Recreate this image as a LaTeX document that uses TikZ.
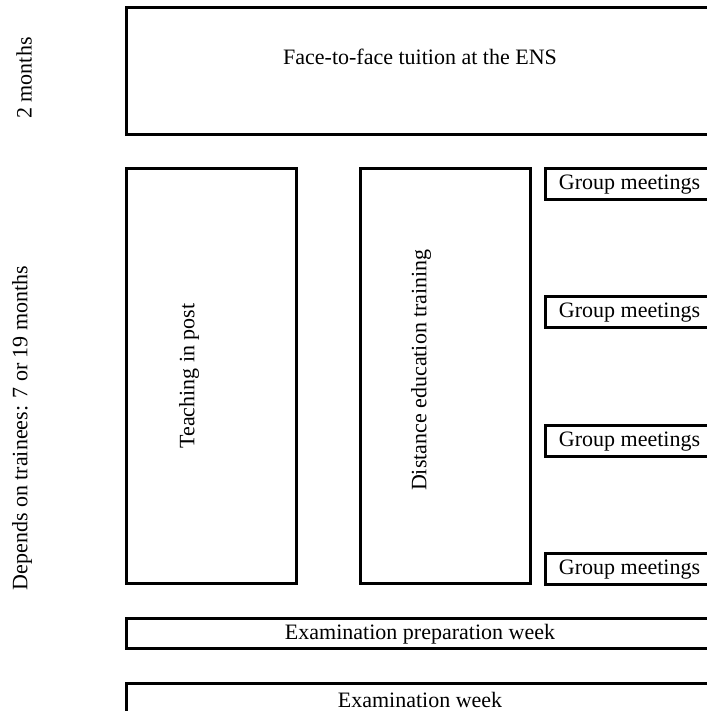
\documentclass[tikz,border=0pt]{standalone}
\usepackage{fontspec}
\setmainfont{Liberation Serif}
\usetikzlibrary{fit}
\begin{document}
\begin{tikzpicture}[x=0.75pt,y=-0.75pt,
  box/.style={draw=black,line width=2.25pt,inner sep=0pt,rectangle},
  lbl/.style={inner sep=0pt,font=\fontsize{16.5}{20}\selectfont},
  vlbl/.style={lbl,rotate=90}]
\useasboundingbox (0,0) rectangle (707,711);
\clip (0,0) rectangle (707,711);
% boxes
\node[box,fit={(126,7) (714,134)}] (ens) {};
\node[box,fit={(126,168) (296,583)}] (teach) {};
\node[box,fit={(360,168) (530,583)}] (dist) {};
\node[box,fit={(545,168) (714,199)}] (g1) {};
\node[box,fit={(545,296) (714,327)}] (g2) {};
\node[box,fit={(545,425) (714,456)}] (g3) {};
\node[box,fit={(545,553) (714,584)}] (g4) {};
\node[box,fit={(126,618) (714,648)}] (prep) {};
\node[box,fit={(126,683) (714,730)}] (exam) {};
% labels
\node[lbl] (tens) at (420,57) {Face-to-face tuition at the ENS};
\node[vlbl] (tteach) at (189,376) {Teaching in post};
\node[vlbl] (tdist) at (421,370) {Distance education training};
\node[lbl] (tg1) at (629.5,185) {Group meetings};
\node[lbl] (tg2) at (629.5,313) {Group meetings};
\node[lbl] (tg3) at (629.5,442) {Group meetings};
\node[lbl] (tg4) at (629.5,570) {Group meetings};
\node[lbl] (tprep) at (420,634) {Examination preparation week};
\node[lbl] (texam) at (420,700) {Examination week};
\node[vlbl] (t2m) at (24,78) {2 months};
\node[vlbl] (tdep) at (22,428) {Depends on trainees: 7 or 19 months};
\end{tikzpicture}
\end{document}
